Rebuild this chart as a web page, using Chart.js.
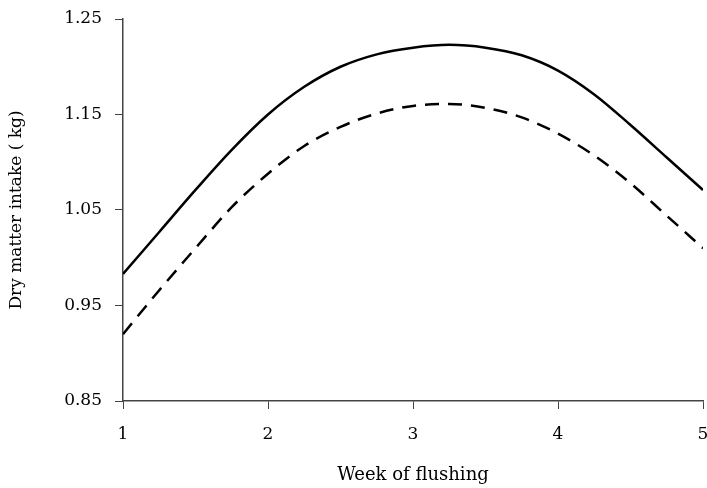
<!DOCTYPE html>
<html>
<head>
<meta charset="utf-8">
<script src="https://cdn.jsdelivr.net/npm/chart.js@4/dist/chart.umd.min.js"></script>
<style>
  html, body { margin: 0; padding: 0; background: #fff; overflow: hidden; }
  #wrap { width: 707px; height: 488px; position: relative; }
</style>
</head>
<body>
<div id="wrap"><canvas id="c"></canvas></div>
<script>
// Week of flushing (x positions of sampled curve points)
const weeks = [1, 1.25, 1.5, 1.75, 2, 2.25, 2.5, 2.75, 3, 3.25, 3.5, 3.75, 4, 4.25, 4.5, 4.75, 5];
// Upper (solid) curve, dry matter intake (kg)
const solidSeries = [0.983, 1.027, 1.071, 1.113, 1.150, 1.179, 1.200, 1.213, 1.220, 1.223, 1.220, 1.212, 1.196, 1.171, 1.139, 1.105, 1.071];
// Lower (dashed) curve, dry matter intake (kg)
const dashedSeries = [0.920, 0.966, 1.010, 1.053, 1.088, 1.117, 1.137, 1.151, 1.159, 1.161, 1.157, 1.147, 1.130, 1.107, 1.078, 1.044, 1.010];
// Tick labels
const xTicks = [1, 2, 3, 4, 5];
const yTicks = [0.85, 0.95, 1.05, 1.15, 1.25];
const xTitle = 'Week of flushing';
const yTitle = 'Dry matter intake ( kg)';

const toPts = (arr) => arr.map((v, i) => ({ x: weeks[i], y: v }));
const FONT = 'DejaVu Serif';
const AXIS = '#444444';

new Chart(document.getElementById('c'), {
  type: 'line',
  data: {
    datasets: [
      {
        data: toPts(solidSeries),
        borderColor: '#000',
        borderWidth: 2.5,
        pointRadius: 0,
        fill: false,
        cubicInterpolationMode: 'monotone'
      },
      {
        data: toPts(dashedSeries),
        borderColor: '#000',
        borderWidth: 2.5,
        borderDash: [14, 9],
        pointRadius: 0,
        fill: false,
        cubicInterpolationMode: 'monotone'
      }
    ]
  },
  options: {
    responsive: true,
    maintainAspectRatio: false,
    animation: false,
    events: [],
    layout: { padding: { top: 19, left: 0, right: 4, bottom: 0 } },
    plugins: { legend: { display: false }, tooltip: { enabled: false } },
    scales: {
      x: {
        type: 'linear',
        min: 1,
        max: 5,
        afterBuildTicks: (s) => { s.ticks = xTicks.map(v => ({ value: v })); },
        afterFit: (s) => { s.height = 87; s.paddingLeft = 0; s.paddingRight = 0; },
        grid: { display: true, drawOnChartArea: false, drawTicks: true, tickLength: 8, color: AXIS, lineWidth: 1 },
        border: { display: true, color: AXIS, width: 1.5 },
        ticks: { color: '#000', padding: 15, maxRotation: 0, font: { family: FONT, size: 17 }, callback: (v) => String(v) },
        title: { display: true, text: xTitle, color: '#000', font: { family: FONT, size: 18 }, padding: { top: 0, bottom: 2 } }
      },
      y: {
        type: 'linear',
        min: 0.85,
        max: 1.25,
        afterBuildTicks: (s) => { s.ticks = yTicks.map(v => ({ value: v })); },
        afterFit: (s) => { s.width = 123; s.paddingTop = 0; s.paddingBottom = 0; },
        grid: { display: true, drawOnChartArea: false, drawTicks: true, tickLength: 8, color: AXIS, lineWidth: 1 },
        border: { display: true, color: AXIS, width: 1.5 },
        ticks: { color: '#000', padding: 13, font: { family: FONT, size: 17 }, callback: (v) => Number(v).toFixed(2) },
        title: { display: true, text: yTitle, color: '#000', font: { family: FONT, size: 17 }, padding: { top: 6, bottom: 0 } }
      }
    }
  }
});
</script>
</body>
</html>
